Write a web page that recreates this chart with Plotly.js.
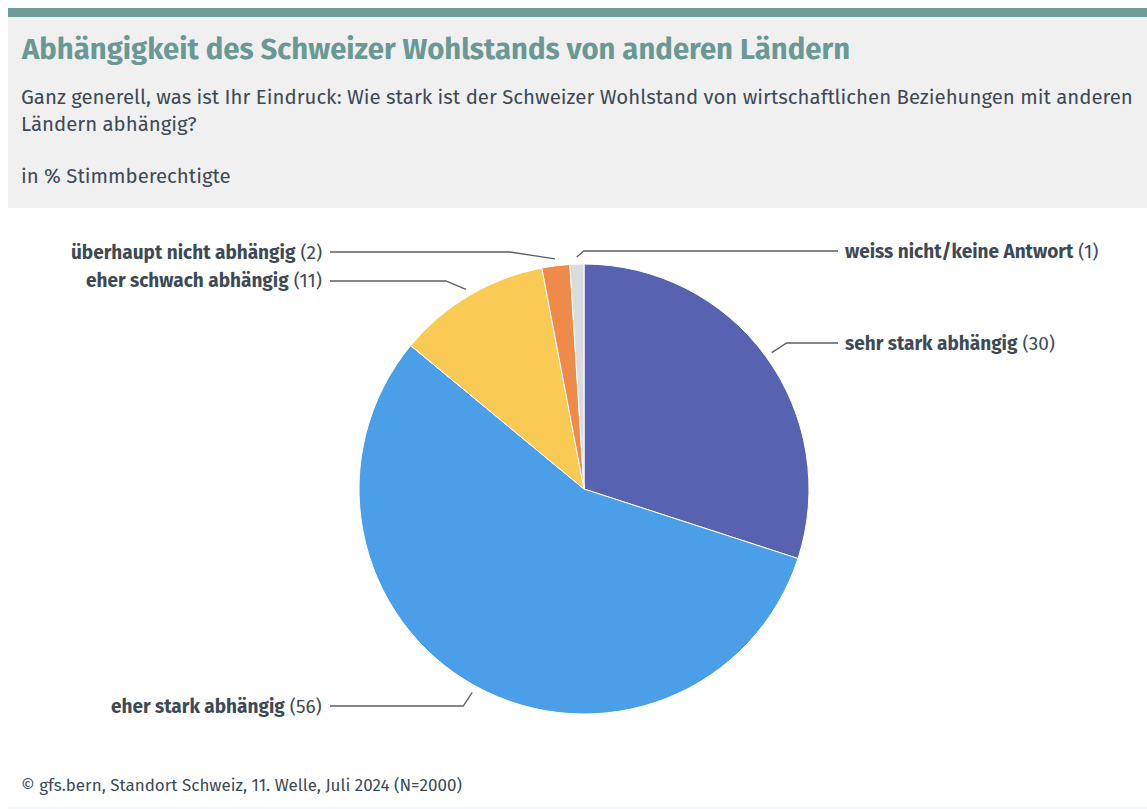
<!DOCTYPE html>
<html>
<head>
<meta charset="utf-8">
<script src="https://cdn.plot.ly/plotly-3.0.1.min.js"></script>
<style>
  html, body { margin: 0; padding: 0; background: #ffffff; }
  #chart { width: 1147px; height: 809px; }
</style>
</head>
<body>
<div id="chart"></div>
<script>
// ---- data ----
const categories = ['sehr stark abhängig', 'eher stark abhängig', 'eher schwach abhängig', 'überhaupt nicht abhängig', 'weiss nicht/keine Antwort'];
const values = [30, 56, 11, 2, 1];
const sliceColors = ['#5763B1', '#4A9FE8', '#F9CB55', '#EE8B4B', '#DADBDD'];

// ---- label layout (pixels) ----
const labelSide = ['right', 'left', 'left', 'left', 'right'];
const labelY = [343, 706, 281, 252, 251];
const elbowDx = [15, 9, 20, 45, 7];

const W = 1147, H = 809;
const px = x => x / W;
const py = y => 1 - y / H;

const pieCx = 584, pieCy = 489, pieR = 225;
const FONT = '"Fira Sans", "Noto Sans", "Open Sans", sans-serif';
const TXT = '#3D4A55';
const TEAL = '#6A9994';

const total = values.reduce((a, b) => a + b, 0);
let cum = 0;
const shapes = [
  {type: 'rect', xref: 'paper', yref: 'paper', x0: px(8), x1: px(1147), y0: py(17), y1: py(208), fillcolor: '#F0F0F0', line: {width: 0}, layer: 'below'},
  {type: 'rect', xref: 'paper', yref: 'paper', x0: px(8), x1: px(1147), y0: py(8), y1: py(17), fillcolor: '#6C9B98', line: {width: 0}, layer: 'below'},
  {type: 'line', xref: 'paper', yref: 'paper', x0: px(8), x1: px(1147), y0: py(808), y1: py(808), line: {color: '#EEF0F2', width: 1}}
];
const annotations = [];

values.forEach((v, i) => {
  const mid = (cum + v / 2) / total;
  cum += v;
  const th = mid * 2 * Math.PI;
  const r = pieR + 7;
  const ex = pieCx + r * Math.sin(th);
  const ey = pieCy - r * Math.cos(th);
  const sign = labelSide[i] === 'right' ? 1 : -1;
  const bx = ex + sign * elbowDx[i];
  const by = labelY[i];
  const endX = labelSide[i] === 'right' ? 838 : 330;
  shapes.push({
    type: 'path', xref: 'paper', yref: 'paper',
    path: `M ${px(ex)} ${py(ey)} L ${px(bx)} ${py(by)} L ${px(endX)} ${py(by)}`,
    line: {color: '#5A5F66', width: 1.3}
  });
  annotations.push({
    xref: 'paper', yref: 'paper',
    x: labelSide[i] === 'right' ? px(843) : px(324),
    y: py(by),
    xanchor: labelSide[i] === 'right' ? 'left' : 'right',
    yanchor: 'middle',
    showarrow: false,
    text: `<b>${categories[i]}</b> (${v})`,
    font: {family: FONT, size: 19, color: TXT}
  });
});

annotations.push(
  {xref: 'paper', yref: 'paper', x: px(19), y: py(50), xanchor: 'left', yanchor: 'middle', showarrow: false,
   text: '<b>Abhängigkeit des Schweizer Wohlstands von anderen Ländern</b>', font: {family: FONT, size: 29.3, color: TEAL}},
  {xref: 'paper', yref: 'paper', x: px(19), y: py(97), xanchor: 'left', yanchor: 'middle', showarrow: false,
   text: 'Ganz generell, was ist Ihr Eindruck: Wie stark ist der Schweizer Wohlstand von wirtschaftlichen Beziehungen mit anderen', font: {family: FONT, size: 20.4, color: TXT}},
  {xref: 'paper', yref: 'paper', x: px(19), y: py(124), xanchor: 'left', yanchor: 'middle', showarrow: false,
   text: 'Ländern abhängig?', font: {family: FONT, size: 20.4, color: TXT}},
  {xref: 'paper', yref: 'paper', x: px(19), y: py(176), xanchor: 'left', yanchor: 'middle', showarrow: false,
   text: 'in % Stimmberechtigte', font: {family: FONT, size: 20.4, color: TXT}},
  {xref: 'paper', yref: 'paper', x: px(19), y: py(785), xanchor: 'left', yanchor: 'middle', showarrow: false,
   text: '© gfs.bern, Standort Schweiz, 11. Welle, Juli 2024 (N=2000)', font: {family: FONT, size: 17, color: TXT}}
);

const trace = {
  type: 'pie',
  labels: categories,
  values: values,
  marker: {colors: sliceColors, line: {color: '#ffffff', width: 1}},
  sort: false,
  direction: 'clockwise',
  rotation: 0,
  textinfo: 'none',
  hoverinfo: 'label+value',
  showlegend: false,
  domain: {x: [px(pieCx - pieR), px(pieCx + pieR)], y: [py(pieCy + pieR), py(pieCy - pieR)]}
};

Plotly.newPlot('chart', [trace], {
  width: W, height: H,
  margin: {l: 0, r: 0, t: 0, b: 0},
  paper_bgcolor: '#ffffff',
  plot_bgcolor: '#ffffff',
  font: {family: FONT, color: TXT},
  shapes: shapes,
  annotations: annotations,
  showlegend: false
}, {displayModeBar: false, staticPlot: true});
</script>
</body>
</html>
